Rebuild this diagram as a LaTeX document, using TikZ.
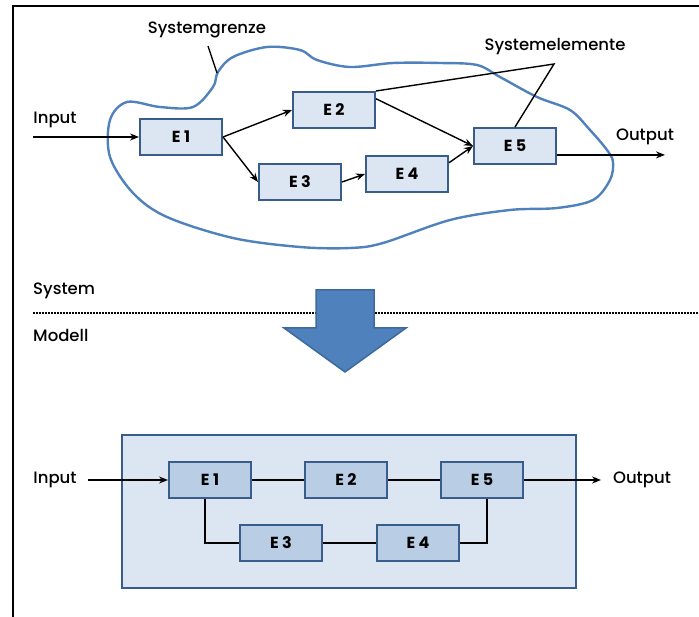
\documentclass[tikz,border=0pt]{standalone}
\usepackage{fontspec}
\setmainfont{Poppins}
\newfontfamily\labelfont{Poppins Medium}
\usetikzlibrary{arrows.meta}
\definecolor{cloudblue}{HTML}{4F81BD}
\definecolor{boxline}{HTML}{385D8A}
\definecolor{boxfill}{HTML}{DCE6F2}
\definecolor{elemfill}{HTML}{B9CDE5}
\definecolor{bigarrow}{HTML}{4F81BD}
\definecolor{bigarrowline}{HTML}{3C6A9E}
\begin{document}
\begin{tikzpicture}[x=1pt,y=-1pt,
  lbl/.style={inner sep=0pt, font=\labelfont\fontsize{16.5}{16.5}\selectfont},
  elem/.style={draw=boxline, fill=boxfill, line width=2pt, inner sep=0pt,
    minimum width=82pt, minimum height=36pt, font=\bfseries\fontsize{16}{16}\selectfont},
  melem/.style={elem, fill=elemfill},
  conn/.style={line width=1.4pt, black},
  arr/.style={conn, -{Stealth[length=9pt,width=7pt]}}]
\useasboundingbox (0,0) rectangle (699,617);

% page frame (top and left rule)
\draw[line width=2pt] (13,617) -- (13,6) -- (699,6);

% ---------- system ----------
\draw[cloudblue, line width=2.4pt] plot[smooth cycle, tension=0.55] coordinates {
 (218,72) (233,57) (267,47) (300,50) (317,60) (350,67) (393,63) (440,63)
 (477,65) (500,77) (537,97) (570,110) (590,130) (607,150) (613,162)
 (610,180) (593,200) (557,208) (510,210) (450,220) (383,243) (350,248)
 (300,247) (233,238) (167,217) (133,193) (110,157) (110,120) (127,102)
 (160,107) (193,107) (213,87)};

\node[lbl] (sg) at (207,30) {Systemgrenze};
\coordinate (sgp) at (217,73);
\draw[conn] (208,46) -- (sgp);

\node[elem] (e1) at (181,137) {E 1};
\node[elem] (e2) at (334,110) {E 2};
\node[elem] (e3) at (300,182) {E 3};
\node[elem] (e4) at (407,174) {E 4};
\node[elem] (e5) at (515,146) {E 5};

\node[lbl] (in1) at (55,120) {Input};
\coordinate (inT) at (33,137);
\draw[arr] (inT) -- (e1.west);

\node[lbl] (out1) at (645,137) {Output};
\coordinate (outT) at (665,155);
\draw[arr] (e5.-12) -- (e5.-12 -| outT);

\draw[arr] (e1.east) -- (e2.west);
\draw[arr] (e1.east) -- (e3.west);
\draw[arr] (e3.east) -- (e4.west);
\draw[arr] (e2.15) -- (e5.west);
\draw[arr] (e4.15) -- (e5.west);

\node[lbl] (se) at (555,47) {Systemelemente};
\coordinate (sep) at (554,64);
\draw[conn] (e2.north east) -- (sep) -- (e5.north);

% ---------- system / model divider ----------
\node[lbl, anchor=west] (sys) at (33,291) {System};
\node[lbl, anchor=west] (mod) at (33,335) {Modell};
\draw[line width=2.2pt, dash pattern=on 1.6pt off 1.4pt] (33,313) -- (699,313);
\draw[fill=bigarrow, draw=bigarrowline, line width=1.5pt]
  (316,290) -- (374,290) -- (374,328) -- (406,328) -- (345,372)
  -- (284,328) -- (316,328) -- cycle;

% ---------- model ----------
\node[draw=boxline, fill=boxfill, line width=2pt, minimum width=454pt,
  minimum height=153pt] (frame) at (349,511.5) {};

\node[melem] (b1) at (210,480) {E 1};
\node[melem] (b2) at (346,480) {E 2};
\node[melem] (b5) at (482,480) {E 5};
\node[melem] (b3) at (281,543) {E 3};
\node[melem] (b4) at (418,543) {E 4};

\draw[conn] (b1) -- (b2);
\draw[conn] (b2) -- (b5);
\draw[conn] (b3) -- (b4);
\draw[conn] ([xshift=-5pt]b1.south) |- (b3.west);
\draw[conn] (b4.east) -| ([xshift=5pt]b5.south);

\node[lbl] (in2) at (55,480) {Input};
\coordinate (inB) at (88,480);
\draw[arr] (inB) -- (b1.west);

\node[lbl] (out2) at (642,480) {Output};
\coordinate (outB) at (601,480);
\draw[arr] (b5.east) -- (outB);
\end{tikzpicture}
\end{document}
